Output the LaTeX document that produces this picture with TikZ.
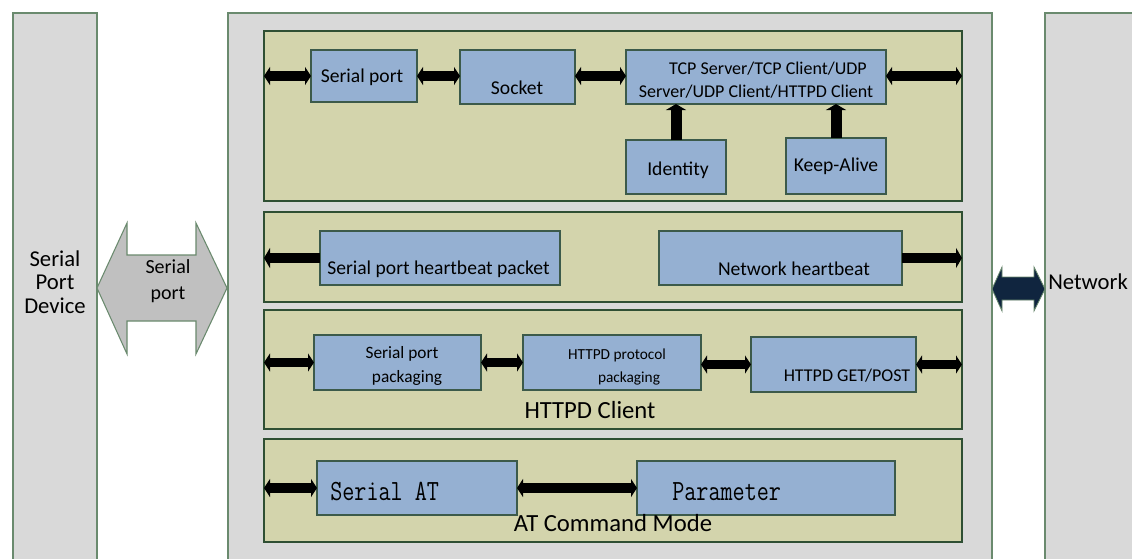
\documentclass[tikz,border=0pt]{standalone}
\usepackage{fontspec}
\usepackage{graphicx}
\setmainfont{Carlito}
\usetikzlibrary{arrows.meta,fit}
\definecolor{colgrey}{HTML}{D9D9D9}
\definecolor{bandfill}{HTML}{D3D4AC}
\definecolor{boxfill}{HTML}{95B0D2}
\definecolor{edgeg}{HTML}{6A8A6E}
\definecolor{bandedge}{HTML}{2F4F33}
\definecolor{boxedge}{HTML}{3C5A4A}
\definecolor{arrgrey}{HTML}{C0C0C0}
\definecolor{navy}{HTML}{10253F}
\newcommand{\monotext}[1]{\scalebox{0.8}[1]{\ttfamily\fontsize{22}{24}\selectfont #1}}
\begin{document}
\begin{tikzpicture}[x=0.75pt,y=-0.75pt,
  column/.style={draw=edgeg, fill=colgrey, line width=0.9pt, inner sep=0pt, outer sep=0pt},
  band/.style={draw=bandedge, fill=bandfill, line width=0.8pt, inner sep=0pt, outer sep=0pt},
  blk/.style={draw=boxedge, fill=boxfill, line width=0.8pt, inner sep=0pt, outer sep=0pt},
  txt/.style={inner sep=0pt, font=\fontsize{14.7}{16}\selectfont},
  dbl/.style={line width=7pt, {Triangle[width=13.5pt,length=4.5pt]}-{Triangle[width=13.5pt,length=4.5pt]}},
  sgl/.style={line width=8pt, -{Triangle[width=15pt,length=4.5pt]}},
  uparr/.style={line width=8.25pt, -{Triangle[width=15pt,length=4.5pt]}},
]
\useasboundingbox (0,0) rectangle (1132,558);
\fill[white] (0,0) rectangle (1132,558);

% columns
\node[column, fit={(13,13) (97,565)}] (dev) {};
\node[column, fit={(228,13) (992,565)}] (main) {};
\node[column, fit={(1045,13) (1140,565)}] (net) {};

% bands
\node[band, fit={(264,31) (962,201)}] (b1) {};
\node[band, fit={(264,212) (962,302)}] (b2) {};
\node[band, fit={(264,310) (962,429)}] (b3) {};
\node[band, fit={(264,439) (962,542)}] (b4) {};

% band 1 boxes
\node[blk, fit={(311,50) (417,102)}] (sp) {};
\node[blk, fit={(460,50) (575,104)}] (sock) {};
\node[blk, fit={(626,50) (886,104)}] (tcp) {};
\node[blk, fit={(626,140) (726,194)}] (id) {};
\node[blk, fit={(786,138) (886,194)}] (ka) {};

% band 2 boxes
\node[blk, fit={(320,231) (560,285)}] (hb) {};
\node[blk, fit={(659,231) (902,285)}] (nh) {};

% band 3 boxes
\node[blk, fit={(314,335) (481,390)}] (spp) {};
\node[blk, fit={(523,335) (701,390)}] (hpp) {};
\node[blk, fit={(751,337) (916,392)}] (gp) {};

% band 4 boxes
\node[blk, fit={(317,461) (517,515)}] (sat) {};
\node[blk, fit={(637,461) (895,515)}] (par) {};

% block arrows
\draw[draw=edgeg, fill=arrgrey, line width=0.8pt] (97,288) -- (127,223) -- (127,255) -- (196,255) -- (196,223) -- (227,288) -- (196,354) -- (196,321) -- (127,321) -- (127,354) -- cycle;
\draw[draw=edgeg, fill=navy, line width=0.6pt] (992,289) -- (1002,267) -- (1002,277) -- (1034,277) -- (1034,267) -- (1045,289) -- (1034,311) -- (1034,300) -- (1002,300) -- (1002,311) -- cycle;

% connectors band 1
\draw[dbl] (sp.west -| b1.west) -- (sp.west);
\draw[dbl] (sp.east) -- (sp.east -| sock.west);
\draw[dbl] (sock.east |- sp.east) -- (sp.east -| tcp.west);
\draw[dbl] (tcp.east |- sp.east) -- (sp.east -| b1.east);
\draw[uparr] (id.north) -- (id.north |- tcp.south);
\draw[uparr] (ka.north) -- (ka.north |- tcp.south);

% connectors band 2
\draw[sgl] (hb.west) -- (hb.west -| b2.west);
\draw[sgl] (nh.east) -- (nh.east -| b2.east);

% connectors band 3
\draw[dbl] (spp.west -| b3.west) -- (spp.west);
\draw[dbl] (spp.east) -- (spp.east -| hpp.west);
\draw[dbl] (hpp.east |- gp.west) -- (gp.west);
\draw[dbl] (gp.east) -- (gp.east -| b3.east);

% connectors band 4
\draw[dbl] (sat.west -| b4.west) -- (sat.west);
\draw[dbl] (sat.east) -- (par.west);

% texts
\node[txt, font=\fontsize{17}{17.6}\selectfont, align=center] (tdev) at (55,282) {Serial\\Port\\Device};
\node[txt, font=\fontsize{15}{19.5}\selectfont, align=center] (tsp) at (168,281) {Serial\\port};
\node[txt, font=\fontsize{17}{20}\selectfont, anchor=west] (tnet) at (1048,282) {Network};

\node[txt] (t1) at (362,77) {Serial port};
\node[txt] (t2) at (517,88) {Socket};
\node[txt, font=\fontsize{13.5}{16}\selectfont] (t3a) at (768,69) {TCP Server/TCP Client/UDP};
\node[txt, font=\fontsize{13.5}{16}\selectfont] (t3b) at (756,92) {Server/UDP Client/HTTPD Client};
\node[txt] (t4) at (678,170) {Identity};
\node[txt] (t5) at (836,166) {Keep-Alive};

\node[txt, anchor=west] (t6) at (327,269) {Serial port heartbeat packet};
\node[txt] (t7) at (794,269) {Network heartbeat};

\node[txt, font=\fontsize{13}{16}\selectfont] (t8a) at (402,354) {Serial port};
\node[txt, font=\fontsize{13}{16}\selectfont] (t8b) at (407,378) {packaging};
\node[txt, font=\fontsize{11.5}{14}\selectfont] (t9a) at (617,355) {HTTPD protocol};
\node[txt, font=\fontsize{11.5}{14}\selectfont] (t9b) at (629,378) {packaging};
\node[txt, font=\fontsize{13.5}{16}\selectfont] (t10) at (847,376) {HTTPD GET/POST};
\node[txt, font=\fontsize{18.5}{22}\selectfont] (t11) at (590,410) {HTTPD Client};

\node[txt, anchor=west] (t12) at (330,491) {\monotext{Serial AT}};
\node[txt, anchor=west] (t13) at (672,492) {\monotext{Parameter}};
\node[txt, font=\fontsize{18.5}{22}\selectfont] (t14) at (613,523) {AT Command Mode};
\end{tikzpicture}
\end{document}
